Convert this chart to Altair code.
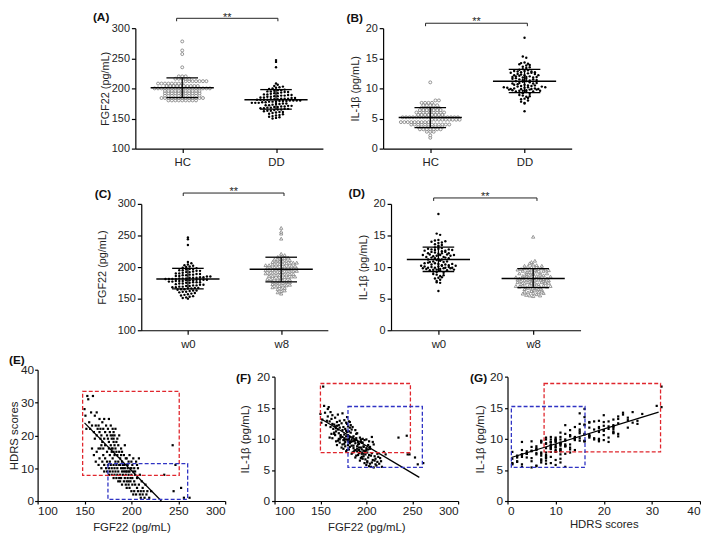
import altair as alt
import pandas as pd
import numpy as np

FONT = "Liberation Sans"

# ---------------- data ----------------
groups_ab = ["HC", "DD"]
groups_cd = ["w0", "w8"]

# healthy controls: value rows of the dot plots and number of dots per row
hc_fgf22_levels = [180, 184, 188, 192, 196, 200, 204, 208, 212, 216, 220, 235, 257, 263, 278]
hc_fgf22_counts = [9, 13, 11, 11, 11, 17, 10, 8, 7, 5, 3, 1, 1, 1, 1]
hc_il1b_levels = [1.8, 2.2, 2.8, 3.2, 3.6, 4.0, 4.4, 4.8, 5.2, 5.6, 6.0, 6.4, 6.8, 7.2, 7.6, 8.0, 11.0]
hc_il1b_counts = [1, 1, 3, 7, 8, 12, 9, 9, 17, 8, 9, 7, 6, 5, 4, 2, 1]

# patients, baseline (w0 = DD)
fgf22_w0 = [150, 151, 152, 153, 154, 155, 156, 157, 158, 159,
            160, 161, 161, 162, 163, 163, 164,
            165, 165, 166, 166, 167, 167, 168, 168, 169, 169,
            170, 170, 171, 171, 172, 172, 173, 174, 174,
            175, 175, 176, 176, 176, 177, 177, 178, 178, 178, 179, 179, 179,
            180, 180, 180, 180, 181, 181, 181, 181, 182, 182, 182, 183, 183, 183, 184, 184,
            185, 185, 186, 186, 187, 187, 188, 188, 189, 189,
            190, 190, 191, 192, 192, 193, 194, 194,
            195, 195, 196, 197, 197, 198, 199,
            200, 201, 202, 203, 204, 206, 208, 235, 244, 247]
hdrs_w0 = [28, 26, 22, 32, 31, 24, 22, 27, 23, 32,
           21, 26, 19, 23, 27, 20, 22,
           16, 23, 21, 25, 19, 22, 17, 20, 24, 18,
           16, 22, 19, 25, 21, 17, 23, 20, 15,
           19, 22, 16, 25, 18, 21, 14, 20, 17, 23, 16, 19, 15,
           20, 16, 22, 13, 18, 21, 15, 19, 17, 14, 20, 16, 22, 12, 18, 15,
           14, 19, 12, 17, 15, 20, 13, 11, 16, 14,
           12, 15, 10, 14, 11, 17, 13, 9,
           11, 13, 10, 12, 9, 14, 10,
           12, 11, 13, 10, 9, 11, 13, 8, 17, 11]
il1b_w0 = [14.0, 12.6, 13.1, 18.4, 15.3, 14.2, 12.2, 12.9, 13.6, 15.1,
           12.8, 14.3, 11.9, 13.2, 12.4, 13.8, 11.6,
           12.3, 10.8, 12.0, 13.4, 11.7, 11.2, 12.7, 12.1, 13.9, 11.5,
           12.2, 10.9, 12.9, 11.8, 10.2, 10.6, 12.5, 11.4, 14.1,
           9.8, 11.9, 10.7, 13.0, 10.1, 11.6, 9.9, 11.3, 12.6, 10.4, 13.5, 11.1, 12.4,
           10.6, 9.7, 12.0, 10.5, 12.8, 9.5, 11.2, 10.0, 11.8, 10.3, 12.7, 9.6, 11.0, 12.2, 9.9, 11.5,
           11.9, 9.6, 8.9, 10.4, 9.7, 9.8, 11.4, 9.3, 10.8, 10.1,
           8.8, 10.9, 9.5, 8.2, 9.2, 10.2, 8.6, 9.9,
           9.4, 7.8, 10.0, 7.6, 8.7, 9.8, 8.0,
           9.9, 6.2, 8.3, 9.6, 8.4, 10.3, 9.1, 10.2, 10.5, 7.5]

# patients, week 8
fgf22_w8 = [158, 160, 162, 163, 165, 166, 167,
            168, 169, 170, 171, 171, 172,
            173, 174, 174, 175, 176, 176, 177, 177,
            178, 179, 179, 180, 181, 181, 182, 182,
            183, 184, 184, 185, 185, 186, 186, 187, 187,
            188, 188, 189, 189, 190, 190, 191, 191, 192, 192,
            193, 193, 194, 194, 195, 195, 195, 196, 196, 197, 197, 197,
            198, 198, 199, 199, 200, 200, 200, 201, 201, 202, 202,
            203, 203, 204, 204, 205, 205, 206, 206, 207, 207,
            208, 209, 209, 210, 210, 211, 212, 212,
            213, 214, 215, 216, 217, 219, 221, 245, 253, 256, 262]
hdrs_w8 = [16, 14, 12, 15, 11, 13, 16,
           10, 12, 14, 9, 11, 13,
           10, 12, 9, 11, 8, 10, 12, 9,
           11, 8, 10, 9, 7, 11, 8, 10,
           9, 7, 11, 8, 10, 6, 9, 7, 11,
           8, 6, 10, 7, 9, 5, 8, 11, 6, 9,
           7, 10, 5, 8, 6, 9, 4, 7, 11, 5, 8, 6,
           9, 4, 7, 6, 10, 3, 8, 5, 7, 2, 9,
           6, 3, 8, 5, 12, 2, 7, 4, 10, 3,
           5, 2, 8, 3, 1, 6, 4, 2,
           3, 1, 5, 2, 3, 1, 3, 3, 4, 1, 1]
il1b_w8 = [14.8, 10.2, 10.8, 10.1, 11.0, 10.6, 9.6,
           9.0, 9.7, 10.0, 9.4, 9.9, 10.4,
           8.6, 9.1, 10.3, 8.4, 9.2, 9.8, 8.8, 9.5,
           8.0, 9.9, 8.2, 9.0, 9.6, 8.3, 9.3, 8.7,
           9.5, 7.6, 8.9, 7.8, 10.2, 8.5, 7.9, 9.7, 8.1,
           7.0, 8.2, 9.8, 7.3, 8.4, 8.0, 7.4, 9.1, 7.7, 8.6,
           6.5, 7.9, 9.6, 6.9, 8.3, 7.1, 7.6, 9.4, 6.8, 8.1, 7.2, 8.8,
           6.1, 8.0, 6.7, 7.5, 5.8, 8.2, 8.5, 6.4, 7.8, 7.0, 9.0,
           5.6, 7.4, 6.0, 8.7, 5.5, 7.3, 6.2, 7.7, 6.6, 9.5,
           5.4, 7.2, 6.5, 5.9, 6.8, 5.7, 7.6, 6.3,
           7.1, 6.0, 6.9, 6.4, 5.5, 7.9, 7.5, 7.5, 7.0, 5.9, 6.1]

# mean and SD bars
mean_A, lo_A, hi_A = [201, 181], [184.5, 165.5], [217.5, 198]
mean_B, lo_B, hi_B = [5.15, 11.2], [3.5, 9.3], [6.8, 13.15]
mean_C, lo_C, hi_C = [181, 196.4], [165.5, 176.6], [198, 215.6]
mean_D, lo_D, hi_D = [11.2, 8.2], [9.3, 6.75], [13.15, 9.75]

# regression lines (end points) and dashed regions [x1, x2, y1, y2]
fitE_x, fitE_y = [150, 232], [23.8, 0]
fitF_x, fitF_y = [150.8, 257.7], [13.2, 3.8]
fitG_x, fitG_y = [0.8, 31.4], [7.0, 14.3]
boxE_red, boxE_blue = [148, 251, 7.8, 33.4], [175, 260, 0.5, 11.4]
boxF_red, boxF_blue = [150, 248, 7.8, 18.9], [180, 261, 5.4, 15.2]
boxG_red, boxG_blue = [7.6, 31.8, 7.9, 18.9], [0.8, 16.1, 5.4, 15.2]


def expand(levels, counts):
    return [lv for lv, c in zip(levels, counts) for _ in range(c)]


hc_fgf22 = expand(hc_fgf22_levels, hc_fgf22_counts)
hc_il1b = expand(hc_il1b_levels, hc_il1b_counts)

XDOM = (0.5, 2.5)
ONE = pd.DataFrame({"k": [0]})


def swarm(values, center, w, h, ydom, row_px=2.8, gap_px=3.5):
    v = np.asarray(values, dtype=float)
    ky = h / (ydom[1] - ydom[0])
    kx = w / (XDOM[1] - XDOM[0])
    rows = np.round((v - ydom[0]) * ky / row_px).astype(int)
    xs = np.empty(len(v))
    for r in np.unique(rows):
        idx = np.where(rows == r)[0]
        n = len(idx)
        xs[idx] = center + (np.arange(n) - (n - 1) / 2.0) * gap_px / kx
    return pd.DataFrame({"x": xs, "y": v})


def mk_hc(ch):
    return ch.mark_point(shape="circle", filled=True, fill="white", stroke="#7a7a7a",
                         strokeWidth=0.8, size=9, opacity=1)


def mk_dd(ch):
    return ch.mark_circle(size=6, color="black", opacity=1)


def mk_w8(ch):
    return ch.mark_point(shape="triangle-up", filled=True, fill="white", stroke="#808080",
                         strokeWidth=0.8, size=11, opacity=1)


def dotplot(tag, cats, v1, v2, m1, m2, means, los, his, ydom, yvals, ytitle, w, h,
            ytp, lab_xy, brk_y, star_y, brk_dx):
    xs = alt.Scale(domain=list(XDOM), nice=False, zero=False)
    ys = alt.Scale(domain=list(ydom), nice=False, zero=False)
    lexpr = f"datum.value == 1 ? '{cats[0]}' : '{cats[1]}'"
    xax = alt.Axis(values=[1, 2], labelExpr=lexpr, title=None, tickSize=4, labelPadding=4,
                   labelFontSize=11.5, grid=False)
    yax = alt.Axis(values=yvals, title=ytitle, tickSize=4, labelPadding=2, labelFontSize=11,
                   titleFontSize=11, titlePadding=ytp, grid=False)

    def X(f):
        return alt.X(f, type="quantitative", scale=xs, axis=xax)

    def Y(f):
        return alt.Y(f, type="quantitative", scale=ys, axis=yax)

    d1 = swarm(v1, 1, w, h, ydom)
    d2 = swarm(v2, 2, w, h, ydom)
    kx = w / (XDOM[1] - XDOM[0])
    st = pd.DataFrame({"c": [1, 2], "m": means, "lo": los, "hi": his})
    st["mx1"] = st.c - 32 / kx
    st["mx2"] = st.c + 32 / kx
    st["sx1"] = st.c - 16 / kx
    st["sx2"] = st.c + 16 / kx
    bd = pd.DataFrame({"b1": [1 + brk_dx[0]], "b2": [2 + brk_dx[1]]})
    bd["bm"] = (bd.b1 + bd.b2) / 2

    p1 = m1(alt.Chart(d1)).encode(x=X("x"), y=Y("y"))
    p2 = m2(alt.Chart(d2)).encode(x=X("x"), y=Y("y"))
    base = alt.Chart(st)
    mean = base.mark_rule(color="black", strokeWidth=1.5).encode(x=X("mx1"), x2="mx2", y=Y("m"))
    cl = base.mark_rule(color="black", strokeWidth=1.3).encode(x=X("sx1"), x2="sx2", y=Y("lo"))
    chh = base.mark_rule(color="black", strokeWidth=1.3).encode(x=X("sx1"), x2="sx2", y=Y("hi"))
    vert = base.mark_rule(color="black", strokeWidth=1.3).encode(x=X("c"), y=Y("lo"), y2="hi")
    bb = alt.Chart(bd)
    bh = bb.mark_rule(color="#222", strokeWidth=1).encode(x=X("b1"), x2="b2", y=alt.value(brk_y))
    bl = bb.mark_rule(color="#222", strokeWidth=1).encode(x=X("b1"), y=alt.value(brk_y),
                                                          y2=alt.value(brk_y + 3))
    br = bb.mark_rule(color="#222", strokeWidth=1).encode(x=X("b2"), y=alt.value(brk_y),
                                                          y2=alt.value(brk_y + 3))
    star = bb.mark_text(text="**", fontSize=11, baseline="top", color="#222").encode(
        x=X("bm"), y=alt.value(star_y))
    lab = alt.Chart(ONE).mark_text(text=tag, fontSize=12, fontWeight="bold", align="left",
                                   baseline="top", color="#111").encode(
        x=alt.value(lab_xy[0]), y=alt.value(lab_xy[1]))
    return alt.layer(p1, p2, mean, cl, chh, vert, bh, bl, br, star, lab).properties(width=w, height=h)


def scatter(tag, xv, yv, xdom, xvals, xtitle, ydom, yvals, ytitle, w, h, top, fx, fy,
            box_red, box_blue, lab_xy, ytp, ylp, xtp):
    xs = alt.Scale(domain=list(xdom), nice=False, zero=False)
    ys = alt.Scale(domain=list(ydom), nice=False, zero=False, range=[h, top])
    xax = alt.Axis(values=xvals, title=xtitle, tickSize=3, labelPadding=2, labelFontSize=12,
                   titleFontSize=11.5, titlePadding=xtp, grid=False)
    yax = alt.Axis(values=yvals, title=ytitle, tickSize=3, labelPadding=ylp, labelFontSize=12,
                   titleFontSize=11.5, titlePadding=ytp, grid=False)

    def X(f):
        return alt.X(f, type="quantitative", scale=xs, axis=xax)

    def Y(f):
        return alt.Y(f, type="quantitative", scale=ys, axis=yax)

    pts = alt.Chart(pd.DataFrame({"px": xv, "py": yv})).mark_square(
        size=5, color="black", opacity=1).encode(x=X("px"), y=Y("py"))
    fit = alt.Chart(pd.DataFrame({"fx": fx, "fy": fy})).mark_line(
        color="black", strokeWidth=1.3).encode(x=X("fx"), y=Y("fy"))
    layers = [pts, fit]
    for box, col in ((box_red, "#e0262d"), (box_blue, "#2f33c4")):
        bdf = pd.DataFrame({"x1": [box[0]], "x2": [box[1]], "y1": [box[2]], "y2": [box[3]]})
        layers.append(alt.Chart(bdf).mark_rect(fillOpacity=0, stroke=col, strokeWidth=1.3,
                                               strokeDash=[4, 2.2]).encode(
            x=X("x1"), x2="x2", y=Y("y1"), y2="y2"))
    layers.append(alt.Chart(ONE).mark_text(text=tag, fontSize=12, fontWeight="bold", align="left",
                                           baseline="top", color="#111").encode(
        x=alt.value(lab_xy[0]), y=alt.value(top + lab_xy[1])))
    return alt.layer(*layers).properties(width=w, height=h)


def spacer(w, h):
    return alt.Chart(ONE).mark_point(opacity=0).encode(
        x=alt.value(0), y=alt.value(0)).properties(width=w, height=h)


H1, H2, H3 = 122, 128, 133
A = dotplot("(A)", groups_ab, hc_fgf22, fgf22_w0, mk_hc, mk_dd, mean_A, lo_A, hi_A,
            (100, 300), [100, 150, 200, 250, 300], "FGF22 (pg/mL)", 190, H1,
            1, (-43, -16), -10, -16, (-0.06, 0.02))
B = dotplot("(B)", groups_ab, hc_il1b, il1b_w0, mk_hc, mk_dd, mean_B, lo_B, hi_B,
            (0, 20), [0, 5, 10, 15, 20], "IL-1β (pg/mL)", 191, H1,
            5, (-37, -15), -5, -12, (-0.05, 0.03))
C = dotplot("(C)", groups_cd, fgf22_w0, fgf22_w8, mk_dd, mk_w8, mean_C, lo_C, hi_C,
            (100, 300), [100, 150, 200, 250, 300], "FGF22 (pg/mL)", 189, H2,
            10, (-47, -15), -11, -18, (-0.05, 0.03))
D = dotplot("(D)", groups_cd, il1b_w0, il1b_w8, mk_dd, mk_w8, mean_D, lo_D, hi_D,
            (0, 20), [0, 5, 10, 15, 20], "IL-1β (pg/mL)", 192, H2,
            5, (-43, -16), -6, -13, (-0.05, 0.04))

E = scatter("(E)", fgf22_w0 + fgf22_w8, hdrs_w0 + hdrs_w8, (100, 300), [100, 150, 200, 250, 300],
            "FGF22 (pg/mL)", (0, 40), [0, 10, 20, 30, 40], "HDRS scores", 190, H3, 0,
            fitE_x, fitE_y, boxE_red, boxE_blue, (-29, -15), 1, 1, 5)
F = scatter("(F)", fgf22_w0 + fgf22_w8, il1b_w0 + il1b_w8, (100, 300), [100, 150, 200, 250, 300],
            "FGF22 (pg/mL)", (0, 20), [0, 5, 10, 15, 20], "IL-1β (pg/mL)", 186, H3, 7,
            fitF_x, fitF_y, boxF_red, boxF_blue, (-39, -4), 6, 2, 5)
G = scatter("(G)", hdrs_w0 + hdrs_w8, il1b_w0 + il1b_w8, (0, 40), [0, 10, 20, 30, 40],
            "HDRS scores", (0, 20), [0, 5, 10, 15, 20], "IL-1β (pg/mL)", 195, H3, 7,
            fitG_x, fitG_y, boxG_red, boxG_blue, (-38, -4), 4, 2, 2)

row1 = alt.hconcat(spacer(38, 1), A, B, spacing=61, bounds="flush")
row2 = alt.hconcat(spacer(41, 1), C, D, spacing=64, bounds="flush")
row3 = alt.hconcat(E, F, G, spacing=50, bounds="flush")
upper = alt.vconcat(row1, row2, spacing=18)
chart = alt.vconcat(upper, row3, spacing=4).properties(
    padding=0
).configure(font=FONT).configure_axis(
    domainColor="black", tickColor="black", labelColor="#222", titleColor="#222",
    labelFont=FONT, titleFont=FONT, titleFontWeight="normal", grid=False, domainWidth=1.2,
    tickWidth=1.2
).configure_view(strokeWidth=0).configure_text(font=FONT)

chart.save("out.html", embed_options={"renderer": "svg", "actions": False})
